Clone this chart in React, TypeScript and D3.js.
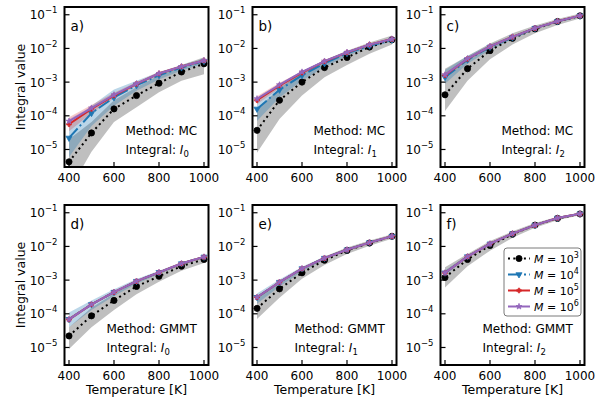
import React from 'react';
import * as d3 from 'd3';

// ---------- data ----------
const temperatures = [400, 500, 600, 700, 800, 900, 1000];
const xTickValues = [400, 600, 800, 1000];
const yTickExponents = [-1, -2, -3, -4, -5];
const legendExponents = [3, 4, 5, 6];
const panelLabels = ['a)', 'b)', 'c)', 'd)', 'e)', 'f)'];
const panelMethods = ['MC', 'MC', 'MC', 'GMMT', 'GMMT', 'GMMT'];
const panelIntegrals = ['0', '1', '2', '0', '1', '2'];

// a) MC, I0
const mcI0_M3 = [4.3e-6, 3.1e-5, 1.6e-4, 4.0e-4, 9.3e-4, 2.0e-3, 3.5e-3];
const mcI0_M3_lo = [6e-7, 8.5e-6, 6.5e-5, 1.8e-4, 5e-4, 1.1e-3, 1.7e-3];
const mcI0_M3_hi = [2e-5, 6.5e-5, 2.9e-4, 7e-4, 1.6e-3, 3.2e-3, 5.5e-3];
const mcI0_M4 = [2.2e-5, 1.2e-4, 3.5e-4, 8e-4, 1.6e-3, 2.7e-3, 4.2e-3];
const mcI0_M4_lo = [6e-6, 5e-5, 2e-4, 5.5e-4, 1.2e-3, 2.2e-3, 3.5e-3];
const mcI0_M4_hi = [6e-5, 2e-4, 6e-4, 1.1e-3, 2e-3, 3.2e-3, 5e-3];
const mcI0_M5 = [5.6e-5, 1.6e-4, 4e-4, 8.9e-4, 1.8e-3, 2.9e-3, 4.4e-3];
const mcI0_M5_lo = [3.5e-5, 1.2e-4, 3.3e-4, 7.8e-4, 1.6e-3, 2.7e-3, 4.1e-3];
const mcI0_M5_hi = [9e-5, 2.1e-4, 4.8e-4, 1e-3, 2e-3, 3.1e-3, 4.7e-3];
const mcI0_M6 = [6.9e-5, 1.7e-4, 4.2e-4, 9e-4, 1.8e-3, 2.9e-3, 4.4e-3];
const mcI0_M6_lo = [6e-5, 1.55e-4, 3.9e-4, 8.5e-4, 1.7e-3, 2.8e-3, 4.3e-3];
const mcI0_M6_hi = [8e-5, 1.85e-4, 4.5e-4, 9.5e-4, 1.9e-3, 3e-3, 4.5e-3];

// b) MC, I1
const mcI1_M3 = [3.7e-5, 2.9e-4, 1.0e-3, 2.7e-3, 5.4e-3, 1.1e-2, 1.8e-2];
const mcI1_M3_lo = [8e-6, 8e-5, 4e-4, 1.4e-3, 3.2e-3, 7e-3, 1.3e-2];
const mcI1_M3_hi = [1.6e-4, 6.5e-4, 2e-3, 4.5e-3, 8.5e-3, 1.5e-2, 2.4e-2];
const mcI1_M4 = [1.6e-4, 5.9e-4, 1.6e-3, 3.6e-3, 7.2e-3, 1.2e-2, 1.8e-2];
const mcI1_M4_lo = [7e-5, 3.5e-4, 1.1e-3, 2.8e-3, 6e-3, 1.05e-2, 1.6e-2];
const mcI1_M4_hi = [3e-4, 9e-4, 2.1e-3, 4.4e-3, 8.3e-3, 1.35e-2, 2e-2];
const mcI1_M5 = [2.9e-4, 7.9e-4, 1.9e-3, 4.1e-3, 7.6e-3, 1.3e-2, 1.9e-2];
const mcI1_M5_lo = [2.2e-4, 6.6e-4, 1.7e-3, 3.8e-3, 7.1e-3, 1.2e-2, 1.8e-2];
const mcI1_M5_hi = [3.8e-4, 9.5e-4, 2.1e-3, 4.4e-3, 8.1e-3, 1.4e-2, 2e-2];
const mcI1_M6 = [3.2e-4, 8.3e-4, 2e-3, 4.2e-3, 7.7e-3, 1.3e-2, 1.9e-2];
const mcI1_M6_lo = [2.9e-4, 7.8e-4, 1.9e-3, 4e-3, 7.4e-3, 1.25e-2, 1.85e-2];
const mcI1_M6_hi = [3.5e-4, 8.8e-4, 2.1e-3, 4.4e-3, 8e-3, 1.35e-2, 1.95e-2];

// c) MC, I2
const mcI2_M3 = [4.2e-4, 2.5e-3, 8.6e-3, 2.0e-2, 3.8e-2, 6.3e-2, 9.3e-2];
const mcI2_M3_lo = [1.4e-4, 1.1e-3, 4.8e-3, 1.3e-2, 2.8e-2, 5e-2, 7.8e-2];
const mcI2_M3_hi = [2.5e-3, 6e-3, 1.4e-2, 2.8e-2, 4.8e-2, 7.5e-2, 1.08e-1];
const mcI2_M4 = [1.4e-3, 4.6e-3, 1.1e-2, 2.1e-2, 4.0e-2, 6.3e-2, 9.3e-2];
const mcI2_M4_lo = [9e-4, 3.5e-3, 9e-3, 1.9e-2, 3.7e-2, 6e-2, 9e-2];
const mcI2_M4_hi = [2.3e-3, 6e-3, 1.3e-2, 2.4e-2, 4.3e-2, 6.7e-2, 9.7e-2];
const mcI2_M5 = [1.6e-3, 4.9e-3, 1.15e-2, 2.2e-2, 4.0e-2, 6.4e-2, 9.4e-2];
const mcI2_M5_lo = [1.4e-3, 4.5e-3, 1.05e-2, 2.05e-2, 3.8e-2, 6.2e-2, 9.1e-2];
const mcI2_M5_hi = [1.85e-3, 5.3e-3, 1.25e-2, 2.35e-2, 4.2e-2, 6.6e-2, 9.7e-2];
const mcI2_M6 = [1.65e-3, 5e-3, 1.15e-2, 2.2e-2, 4.0e-2, 6.4e-2, 9.4e-2];
const mcI2_M6_lo = [1.55e-3, 4.8e-3, 1.1e-2, 2.15e-2, 3.9e-2, 6.3e-2, 9.3e-2];
const mcI2_M6_hi = [1.75e-3, 5.2e-3, 1.2e-2, 2.25e-2, 4.1e-2, 6.5e-2, 9.5e-2];

// d) GMMT, I0
const gmI0_M3 = [2.2e-5, 8.7e-5, 2.5e-4, 6.5e-4, 1.3e-3, 2.6e-3, 4.1e-3];
const gmI0_M3_lo = [9e-6, 4e-5, 1.3e-4, 3.8e-4, 9e-4, 1.9e-3, 3.2e-3];
const gmI0_M3_hi = [4e-5, 1.5e-4, 4e-4, 9e-4, 1.7e-3, 3.1e-3, 4.8e-3];
const gmI0_M4 = [6.9e-5, 1.9e-4, 4.4e-4, 9.3e-4, 1.7e-3, 3.1e-3, 4.9e-3];
const gmI0_M4_lo = [4e-5, 1.3e-4, 3.4e-4, 7.8e-4, 1.5e-3, 2.8e-3, 4.5e-3];
const gmI0_M4_hi = [1.1e-4, 2.5e-4, 5.4e-4, 1.08e-3, 1.9e-3, 3.4e-3, 5.3e-3];
const gmI0_M5 = [6.8e-5, 1.9e-4, 4.4e-4, 9.3e-4, 1.7e-3, 3.1e-3, 4.9e-3];
const gmI0_M5_lo = [6e-5, 1.75e-4, 4.1e-4, 8.8e-4, 1.62e-3, 3e-3, 4.75e-3];
const gmI0_M5_hi = [7.8e-5, 2.05e-4, 4.7e-4, 9.8e-4, 1.78e-3, 3.2e-3, 5.05e-3];
const gmI0_M6 = [6.8e-5, 1.9e-4, 4.4e-4, 9.3e-4, 1.7e-3, 3.1e-3, 4.9e-3];
const gmI0_M6_lo = [6.5e-5, 1.85e-4, 4.3e-4, 9.1e-4, 1.67e-3, 3.05e-3, 4.85e-3];
const gmI0_M6_hi = [7.1e-5, 1.95e-4, 4.5e-4, 9.5e-4, 1.73e-3, 3.15e-3, 4.95e-3];

// e) GMMT, I1
const gmI1_M3 = [1.45e-4, 5.5e-4, 1.65e-3, 3.9e-3, 7.6e-3, 1.26e-2, 2.0e-2];
const gmI1_M3_lo = [7e-5, 3e-4, 1.1e-3, 2.8e-3, 6e-3, 1.05e-2, 1.7e-2];
const gmI1_M3_hi = [2.8e-4, 9e-4, 2.3e-3, 5e-3, 9.3e-3, 1.5e-2, 2.3e-2];
const gmI1_M4 = [3.1e-4, 8.7e-4, 2.2e-3, 4.5e-3, 8e-3, 1.3e-2, 2.0e-2];
const gmI1_M4_lo = [2e-4, 6.5e-4, 1.8e-3, 4e-3, 7.3e-3, 1.22e-2, 1.9e-2];
const gmI1_M4_hi = [4e-4, 1.05e-3, 2.5e-3, 5e-3, 8.7e-3, 1.4e-2, 2.1e-2];
const gmI1_M5 = [3.1e-4, 8.7e-4, 2.2e-3, 4.5e-3, 8e-3, 1.3e-2, 2.0e-2];
const gmI1_M5_lo = [2.8e-4, 8.1e-4, 2.1e-3, 4.3e-3, 7.7e-3, 1.26e-2, 1.95e-2];
const gmI1_M5_hi = [3.4e-4, 9.3e-4, 2.3e-3, 4.7e-3, 8.3e-3, 1.34e-2, 2.05e-2];
const gmI1_M6 = [3.1e-4, 8.7e-4, 2.2e-3, 4.5e-3, 8e-3, 1.3e-2, 2.0e-2];
const gmI1_M6_lo = [3e-4, 8.5e-4, 2.15e-3, 4.4e-3, 7.9e-3, 1.28e-2, 1.98e-2];
const gmI1_M6_hi = [3.2e-4, 8.9e-4, 2.25e-3, 4.6e-3, 8.1e-3, 1.32e-2, 2.02e-2];

// f) GMMT, I2
const gmI2_M3 = [1.2e-3, 4.1e-3, 1.07e-2, 2.3e-2, 4.3e-2, 6.8e-2, 9.2e-2];
const gmI2_M3_lo = [6e-4, 2.6e-3, 7.5e-3, 1.8e-2, 3.6e-2, 6e-2, 8.4e-2];
const gmI2_M3_hi = [2.4e-3, 6e-3, 1.45e-2, 2.8e-2, 5e-2, 7.6e-2, 1.0e-1];
const gmI2_M4 = [1.65e-3, 5e-3, 1.2e-2, 2.4e-2, 4.3e-2, 7e-2, 9.3e-2];
const gmI2_M4_lo = [1.4e-3, 4.5e-3, 1.1e-2, 2.25e-2, 4.1e-2, 6.7e-2, 9e-2];
const gmI2_M4_hi = [1.95e-3, 5.5e-3, 1.3e-2, 2.55e-2, 4.5e-2, 7.3e-2, 9.6e-2];
const gmI2_M5 = [1.65e-3, 5e-3, 1.2e-2, 2.4e-2, 4.3e-2, 7e-2, 9.3e-2];
const gmI2_M5_lo = [1.55e-3, 4.8e-3, 1.15e-2, 2.33e-2, 4.2e-2, 6.85e-2, 9.15e-2];
const gmI2_M5_hi = [1.75e-3, 5.2e-3, 1.25e-2, 2.47e-2, 4.4e-2, 7.15e-2, 9.45e-2];
const gmI2_M6 = [1.65e-3, 5e-3, 1.2e-2, 2.4e-2, 4.3e-2, 7e-2, 9.3e-2];
const gmI2_M6_lo = [1.6e-3, 4.9e-3, 1.18e-2, 2.37e-2, 4.25e-2, 6.92e-2, 9.22e-2];
const gmI2_M6_hi = [1.7e-3, 5.1e-3, 1.22e-2, 2.43e-2, 4.35e-2, 7.08e-2, 9.38e-2];

type Band = { mean: number[]; lo: number[]; hi: number[] };
const panelSeries: Band[][] = [
  [
    { mean: mcI0_M3, lo: mcI0_M3_lo, hi: mcI0_M3_hi },
    { mean: mcI0_M4, lo: mcI0_M4_lo, hi: mcI0_M4_hi },
    { mean: mcI0_M5, lo: mcI0_M5_lo, hi: mcI0_M5_hi },
    { mean: mcI0_M6, lo: mcI0_M6_lo, hi: mcI0_M6_hi },
  ],
  [
    { mean: mcI1_M3, lo: mcI1_M3_lo, hi: mcI1_M3_hi },
    { mean: mcI1_M4, lo: mcI1_M4_lo, hi: mcI1_M4_hi },
    { mean: mcI1_M5, lo: mcI1_M5_lo, hi: mcI1_M5_hi },
    { mean: mcI1_M6, lo: mcI1_M6_lo, hi: mcI1_M6_hi },
  ],
  [
    { mean: mcI2_M3, lo: mcI2_M3_lo, hi: mcI2_M3_hi },
    { mean: mcI2_M4, lo: mcI2_M4_lo, hi: mcI2_M4_hi },
    { mean: mcI2_M5, lo: mcI2_M5_lo, hi: mcI2_M5_hi },
    { mean: mcI2_M6, lo: mcI2_M6_lo, hi: mcI2_M6_hi },
  ],
  [
    { mean: gmI0_M3, lo: gmI0_M3_lo, hi: gmI0_M3_hi },
    { mean: gmI0_M4, lo: gmI0_M4_lo, hi: gmI0_M4_hi },
    { mean: gmI0_M5, lo: gmI0_M5_lo, hi: gmI0_M5_hi },
    { mean: gmI0_M6, lo: gmI0_M6_lo, hi: gmI0_M6_hi },
  ],
  [
    { mean: gmI1_M3, lo: gmI1_M3_lo, hi: gmI1_M3_hi },
    { mean: gmI1_M4, lo: gmI1_M4_lo, hi: gmI1_M4_hi },
    { mean: gmI1_M5, lo: gmI1_M5_lo, hi: gmI1_M5_hi },
    { mean: gmI1_M6, lo: gmI1_M6_lo, hi: gmI1_M6_hi },
  ],
  [
    { mean: gmI2_M3, lo: gmI2_M3_lo, hi: gmI2_M3_hi },
    { mean: gmI2_M4, lo: gmI2_M4_lo, hi: gmI2_M4_hi },
    { mean: gmI2_M5, lo: gmI2_M5_lo, hi: gmI2_M5_hi },
    { mean: gmI2_M6, lo: gmI2_M6_lo, hi: gmI2_M6_hi },
  ],
];

// ---------- styles ----------
const FONT = 'DejaVu Sans, sans-serif';
const W = 595;
const H = 404;
const panelLefts = [64.5, 252.5, 440.5];
const panelTops = [7, 205];
const PW = 144;
const PH = 160;

const seriesStyle = [
  { color: '#000000', fill: '#000000', fillOpacity: 0.25, dash: '2,3.3', width: 2, symbol: d3.symbolCircle, size: 30, rotate: 0 },
  { color: '#1f77b4', fill: '#1f77b4', fillOpacity: 0.3, dash: '12.8,3.2,2,3.2', width: 2, symbol: d3.symbolTriangle, size: 16, rotate: 180 },
  { color: '#d62728', fill: '#d62728', fillOpacity: 0.25, dash: null, width: 2, symbol: d3.symbolCross, size: 12, rotate: 0 },
  { color: '#9467bd', fill: '#9467bd', fillOpacity: 0.3, dash: null, width: 2, symbol: d3.symbolStar, size: 11, rotate: 0 },
];

function Panel({ idx }: { idx: number }) {
  const col = idx % 3;
  const row = Math.floor(idx / 3);
  const left = panelLefts[col];
  const top = panelTops[row];
  const right = left + PW;
  const bottom = top + PH;
  const x = d3.scaleLinear().domain([380, 1020]).range([left, right]);
  const y = d3.scaleLog().domain([Math.pow(10, -5.52), Math.pow(10, -0.77)]).range([bottom, top]);
  const series = panelSeries[idx];
  const clipId = `clip-${idx}`;
  const line = d3.line<number>().x((_, i) => x(temperatures[i])).y((d) => y(d));
  const area = (b: Band) =>
    d3.area<number>()
      .x((_, i) => x(temperatures[i]))
      .y0((_, i) => y(b.lo[i]))
      .y1((_, i) => y(b.hi[i]))(b.mean) as string;
  const isMC = panelMethods[idx] === 'MC';
  const textX = left + (isMC ? 61 : 42);

  return (
    <g>
      <defs>
        <clipPath id={clipId}>
          <rect x={left} y={top} width={PW} height={PH} />
        </clipPath>
      </defs>
      <g clipPath={`url(#${clipId})`}>
        {series.map((b, si) => (
          <path key={`a${si}`} d={area(b)} fill={seriesStyle[si].fill} fillOpacity={seriesStyle[si].fillOpacity} stroke="none" />
        ))}
        {series.map((b, si) => {
          const st = seriesStyle[si];
          const sym = d3.symbol().type(st.symbol).size(st.size)() as string;
          return (
            <g key={`l${si}`}>
              <path d={line(b.mean) as string} fill="none" stroke={st.color} strokeWidth={st.width}
                strokeDasharray={st.dash || undefined} strokeLinecap="butt" />
              {b.mean.map((v, i) => (
                <path key={i} d={sym} fill={st.color} stroke={st.color} strokeWidth={0.8}
                  transform={`translate(${x(temperatures[i])},${y(v)}) rotate(${st.rotate})`} />
              ))}
            </g>
          );
        })}
      </g>
      {/* frame */}
      <rect x={left} y={top} width={PW} height={PH} fill="none" stroke="#000" strokeWidth={2} />
      {/* y ticks */}
      {yTickExponents.map((e) => {
        const yy = y(Math.pow(10, e));
        return (
          <g key={`yt${e}`}>
            <line x1={left} x2={left + 5} y1={yy} y2={yy} stroke="#000" strokeWidth={1.2} />
            <text x={left - 7} y={yy + 4.5} textAnchor="end" fontFamily={FONT} fontSize={12} fill="#000">
              10<tspan fontSize={8.5} dy={-6}>{'\u2212' + Math.abs(e)}</tspan>
            </text>
          </g>
        );
      })}
      {/* x ticks */}
      {xTickValues.map((t) => {
        const xx = x(t);
        return (
          <g key={`xt${t}`}>
            <line x1={xx} x2={xx} y1={bottom} y2={bottom - 5} stroke="#000" strokeWidth={1.2} />
            <text x={xx} y={bottom + 15} textAnchor="middle" fontFamily={FONT} fontSize={12} fill="#000">{t}</text>
          </g>
        );
      })}
      <text x={left + 6} y={top + 24} fontFamily={FONT} fontSize={13.5} fill="#000">{panelLabels[idx]}</text>
      <text x={textX} y={bottom - 32} fontFamily={FONT} fontSize={12} fill="#000">Method: {panelMethods[idx]}</text>
      <text x={textX} y={bottom - 13} fontFamily={FONT} fontSize={12} fill="#000">
        Integral: <tspan fontStyle="italic">I</tspan>
        <tspan fontSize={8.5} dy={3}>{panelIntegrals[idx]}</tspan>
      </text>
      {col === 0 && (
        <text transform={`translate(${left - 40},${(top + bottom) / 2}) rotate(-90)`} textAnchor="middle"
          fontFamily={FONT} fontSize={12.5} fill="#000">Integral value</text>
      )}
      {row === 1 && (
        <text x={(left + right) / 2} y={bottom + 29} textAnchor="middle" fontFamily={FONT} fontSize={12.5} fill="#000">
          Temperature [K]
        </text>
      )}
    </g>
  );
}

function Legend() {
  const bx = 504;
  const by = 248;
  const rowY = [258.5, 274.5, 290.5, 306.5];
  return (
    <g>
      <rect x={bx} y={by} width={77} height={68} rx={3} fill="#fff" fillOpacity={0.85} stroke="#7a7a7a" strokeWidth={1} />
      {legendExponents.map((e, i) => {
        const st = seriesStyle[i];
        const yy = rowY[i];
        const sym = d3.symbol().type(st.symbol).size(st.size)() as string;
        return (
          <g key={e}>
            <line x1={508} x2={530} y1={yy} y2={yy} stroke={st.color} strokeWidth={st.width}
              strokeDasharray={st.dash || undefined} strokeLinecap="butt" />
            <path d={sym} fill={st.color} stroke={st.color} strokeWidth={0.8}
              transform={`translate(519,${yy}) rotate(${st.rotate})`} />
            <text x={534} y={yy + 4} fontFamily={FONT} fontSize={11} fill="#000">
              <tspan fontStyle="italic">M</tspan> = 10<tspan fontSize={8} dy={-5}>{e}</tspan>
            </text>
          </g>
        );
      })}
    </g>
  );
}

export default function App() {
  return (
    <svg width={W} height={H} viewBox={`0 0 ${W} ${H}`}
      style={{ position: 'absolute', left: 0, top: 0, display: 'block', background: '#fff' }}>
      <rect x={0} y={0} width={W} height={H} fill="#fff" />
      {panelSeries.map((_, i) => (
        <Panel key={i} idx={i} />
      ))}
      <Legend />
    </svg>
  );
}
